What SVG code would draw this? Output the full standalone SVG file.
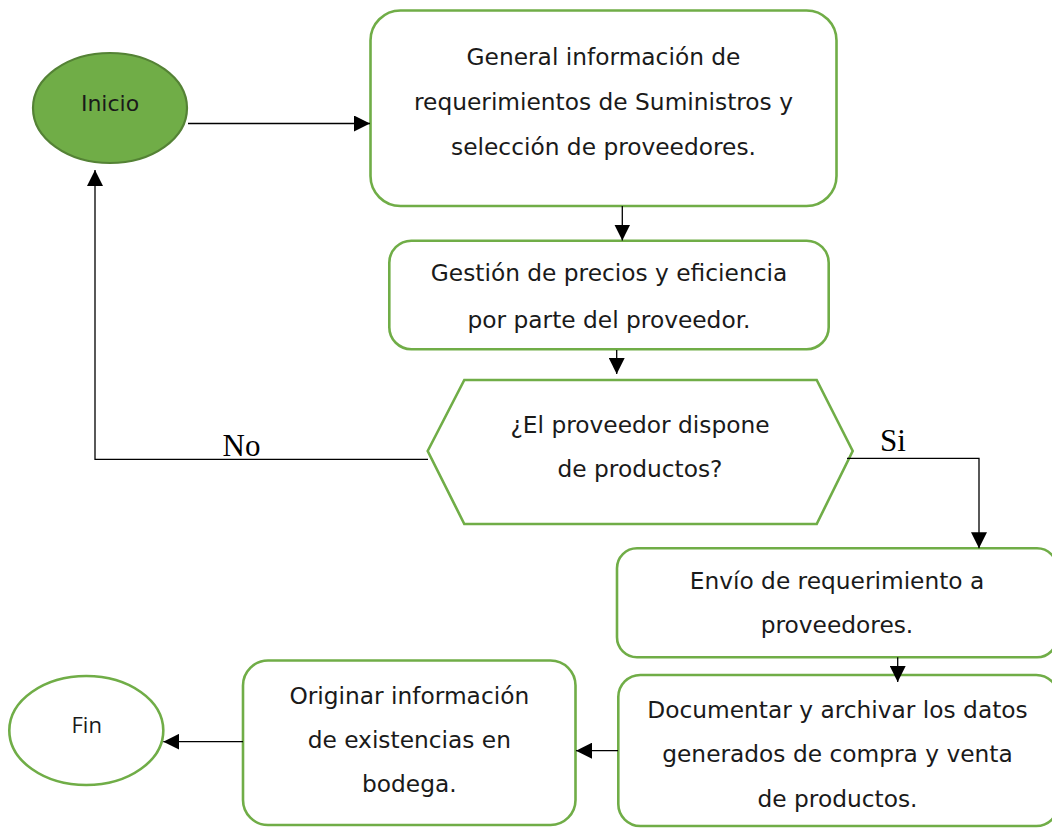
<svg xmlns="http://www.w3.org/2000/svg" width="1052" height="828" viewBox="0 0 1052 828">
<style>
.box{fill:#ffffff;stroke:#70AD47;stroke-width:2.6}
.t{font-family:"DejaVu Sans","Liberation Sans",sans-serif;font-size:23.3px;fill:#1a1a1a;text-anchor:middle}
.lbl{font-family:"Liberation Serif","Times New Roman",serif;font-size:31px;fill:#000}
.c{fill:none;stroke:#000;stroke-width:1.3}
</style>
<defs>
<marker id="ah" markerUnits="userSpaceOnUse" markerWidth="16" markerHeight="16" viewBox="0 0 16 16" refX="16" refY="8" orient="auto">
<path d="M0,0 L16,8 L0,16 Z" fill="#000"/>
</marker>
</defs>
<rect width="1052" height="828" fill="#ffffff"/>
<g id="inicio">
<ellipse cx="110" cy="108" rx="77" ry="55" fill="#70AD47" stroke="#548235" stroke-width="2.2"/>
<text class="t" x="110" y="110.5" style="font-size:22px">Inicio</text>
</g>
<g id="general">
<rect class="box" x="370.5" y="10.5" width="466" height="195.5" rx="30" ry="30"/>
<text class="t" x="603.5" y="65">General información de</text>
<text class="t" x="603.5" y="110">requerimientos de Suministros y</text>
<text class="t" x="603.5" y="155">selección de proveedores.</text>
</g>
<g id="gestion">
<rect class="box" x="389.3" y="240.7" width="439.4" height="108.5" rx="22" ry="22"/>
<text class="t" x="609" y="281">Gestión de precios y eficiencia</text>
<text class="t" x="609" y="327.5">por parte del proveedor.</text>
</g>
<g id="decision">
<polygon class="box" points="427.7,451 464.3,380 816.7,380 852.7,451 816.7,524 464.3,524"/>
<text class="t" x="640" y="432.5">¿El proveedor dispone</text>
<text class="t" x="640" y="476.7">de productos?</text>
</g>
<g id="envio">
<rect class="box" x="617" y="548.3" width="440" height="109" rx="20" ry="20"/>
<text class="t" x="837" y="589.3">Envío de requerimiento a</text>
<text class="t" x="837" y="633">proveedores.</text>
</g>
<g id="documentar">
<rect class="box" x="618.3" y="675" width="440" height="151" rx="22" ry="22"/>
<text class="t" x="837.5" y="718.3">Documentar y archivar los datos</text>
<text class="t" x="837.5" y="761.7">generados de compra y venta</text>
<text class="t" x="837.5" y="806.7">de productos.</text>
</g>
<g id="originar">
<rect class="box" x="243" y="660.5" width="332.5" height="164.5" rx="25" ry="25"/>
<text class="t" x="409.3" y="704.3">Originar información</text>
<text class="t" x="409.3" y="747.7">de existencias en</text>
<text class="t" x="409.3" y="791.7">bodega.</text>
</g>
<g id="fin">
<ellipse cx="86.3" cy="730.5" rx="77" ry="54.5" fill="#ffffff" stroke="#70AD47" stroke-width="2.6"/>
<text x="86.7" y="732.7" style="font-family:'Open Sans','DejaVu Sans',sans-serif;font-size:22px;fill:#1a1a1a;text-anchor:middle">Fin</text>
</g>
<g id="connectors">
<line class="c" x1="188" y1="123.5" x2="370" y2="123.5" marker-end="url(#ah)"/>
<line class="c" x1="622.3" y1="206" x2="622.3" y2="240.5" marker-end="url(#ah)"/>
<line class="c" x1="616.7" y1="350" x2="616.7" y2="374" marker-end="url(#ah)"/>
<polyline class="c" points="428,459.3 95,459.3 95,170" marker-end="url(#ah)"/>
<polyline class="c" points="847,458.3 979,458.3 979,548.3" marker-end="url(#ah)"/>
<line class="c" x1="897.7" y1="657.3" x2="897.7" y2="682" marker-end="url(#ah)"/>
<line class="c" x1="618" y1="750.7" x2="576" y2="750.7" marker-end="url(#ah)"/>
<line class="c" x1="243" y1="741.7" x2="163.3" y2="741.7" marker-end="url(#ah)"/>
<text class="lbl" x="222.5" y="456">No</text>
<text class="lbl" x="880" y="451">Si</text>
</g>
</svg>
